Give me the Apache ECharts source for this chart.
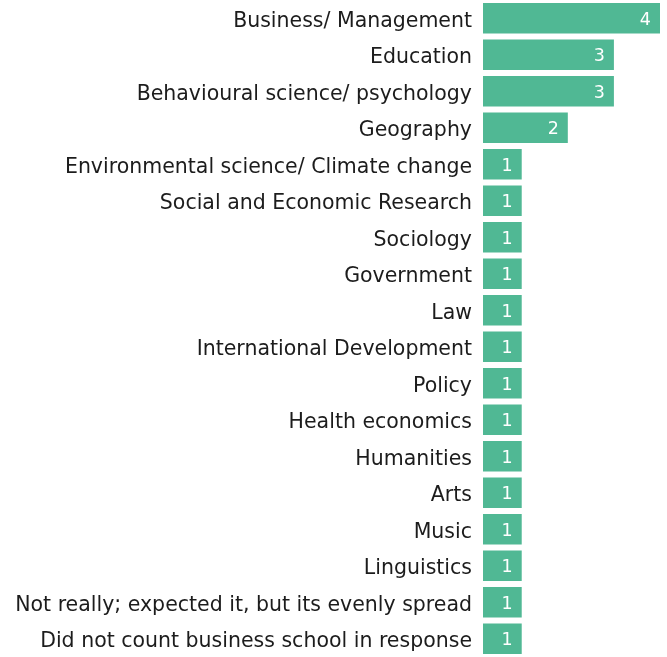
<!DOCTYPE html>
<html><head><meta charset="utf-8">
<script src="https://cdn.jsdelivr.net/npm/echarts@6/dist/echarts.min.js"></script>
<style>html,body{margin:0;padding:0;background:#fff}#c{width:667px;height:657px}</style>
</head><body><div id="c"></div>
<script>
const categories = [
  "Business/ Management",
  "Education",
  "Behavioural science/ psychology",
  "Geography",
  "Environmental science/ Climate change",
  "Social and Economic Research",
  "Sociology",
  "Government",
  "Law",
  "International Development",
  "Policy",
  "Health economics",
  "Humanities",
  "Arts",
  "Music",
  "Linguistics",
  "Not really; expected it, but its evenly spread",
  "Did not count business school in response"
];
const counts = [4, 3, 3, 2, 1, 1, 1, 1, 1, 1, 1, 1, 1, 1, 1, 1, 1, 1];

const chart = echarts.init(document.getElementById('c'), null, {renderer: 'canvas'});
chart.setOption({
  animation: false,
  grid: {left: 483, right: 7, top: -1, bottom: -2, containLabel: false},
  xAxis: {type: 'value', min: 0.16, max: 4, show: false},
  yAxis: {
    type: 'category', data: categories, inverse: true,
    axisLine: {show: false}, axisTick: {show: false},
    axisLabel: {show: false}
  },
  series: [{
    type: 'bar', data: counts, barCategoryGap: '17%',
    itemStyle: {color: '#50b894'},
    clip: true,
    label: {show: true, position: 'insideRight', distance: 9, offset: [0, 2], color: '#fff', fontSize: 17.5, fontFamily: 'DejaVu Sans'}
  }, {
    type: 'bar', data: counts, barGap: '-100%', barCategoryGap: '17%',
    itemStyle: {color: 'rgba(0,0,0,0)'},
    clip: true, silent: true,
    label: {show: true, position: 'left', distance: 11, offset: [0, 3], formatter: '{b}', color: '#1c1c1c', fontSize: 20.5, fontFamily: 'DejaVu Sans'}
  }]
});
</script></body></html>
